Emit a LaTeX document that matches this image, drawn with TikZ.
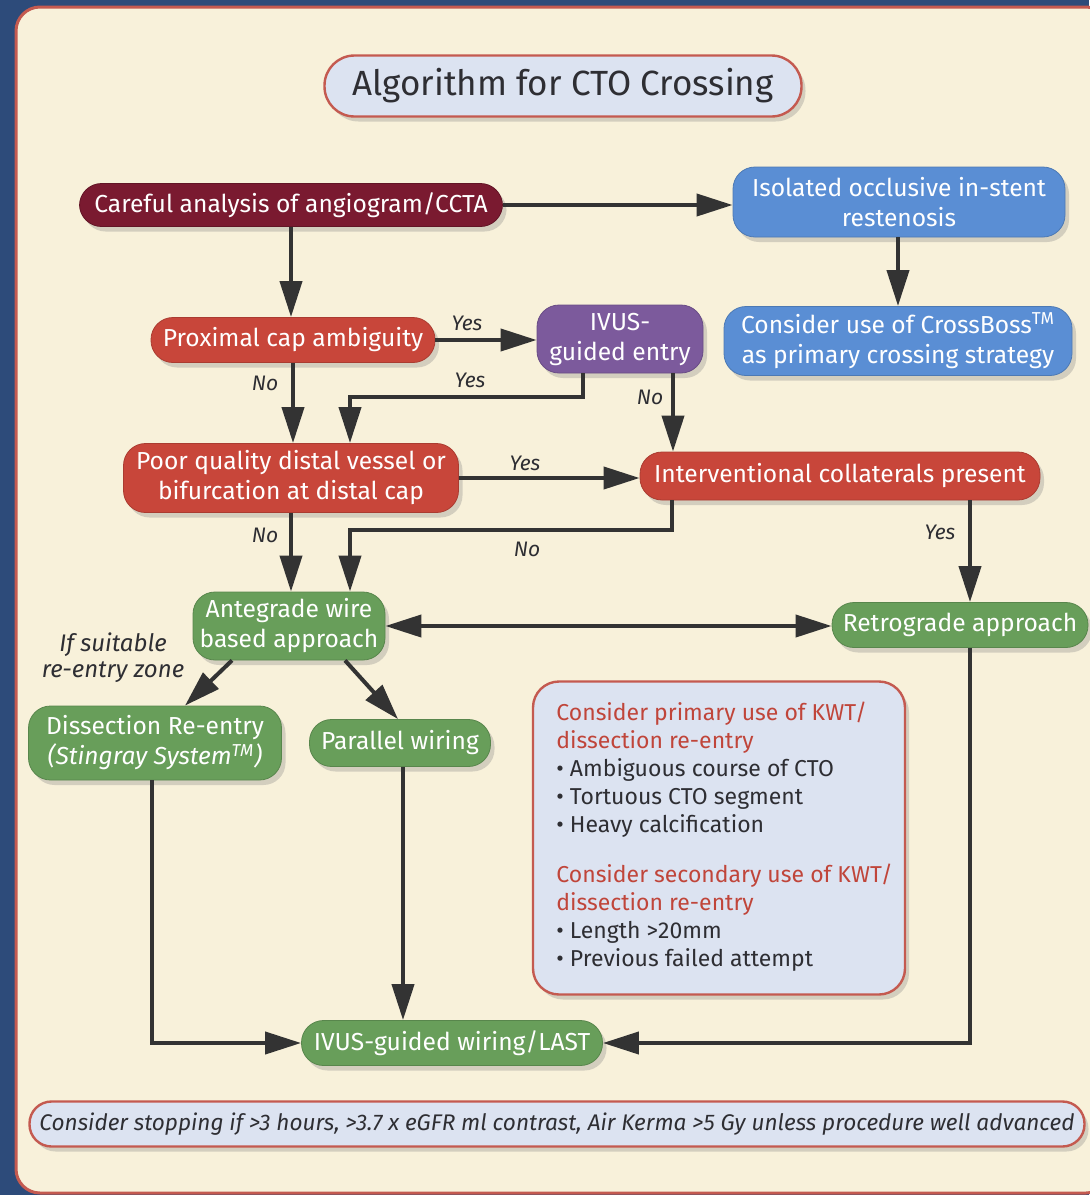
\documentclass[tikz,border=0pt]{standalone}
\usepackage{fontspec}
\setmainfont{Fira Sans}
\usetikzlibrary{arrows.meta,shadows,calc}
\definecolor{bgblue}{HTML}{2D4B7A}
\definecolor{cream}{HTML}{F8F1DA}
\definecolor{frame}{HTML}{C45A50}
\definecolor{maroon}{HTML}{7A1A30}
\definecolor{nred}{HTML}{C8463A}
\definecolor{nblue}{HTML}{5A8ED4}
\definecolor{npurple}{HTML}{7C5A9C}
\definecolor{ngreen}{HTML}{689E5A}
\definecolor{lblue}{HTML}{DCE3F1}
\definecolor{arrcol}{HTML}{333333}
\definecolor{headred}{HTML}{C0453A}
\definecolor{txtdark}{HTML}{2E2E33}
\tikzset{
  nodebase/.style={rounded corners=11pt, text=white, align=center, inner sep=0pt,
    font=\fontsize{12.3}{15}\selectfont,
    drop shadow={opacity=0.3, shadow xshift=2pt, shadow yshift=-2.5pt}},
  maroonbox/.style={nodebase, fill=maroon, draw=maroon!80!black},
  redbox/.style={nodebase, fill=nred, draw=nred!85!black},
  bluebox/.style={nodebase, fill=nblue, draw=nblue!85!black},
  purplebox/.style={nodebase, fill=npurple, draw=npurple!85!black},
  greenbox/.style={nodebase, fill=ngreen, draw=ngreen!85!black},
  notebox/.style={nodebase, fill=lblue, draw=frame, line width=1.2pt, text=txtdark},
  arr/.style={draw=arrcol, line width=2pt, -{Triangle[length=18pt,width=11pt]}},
  lbl/.style={font=\fontsize{10.5}{12}\selectfont\itshape, text=txtdark, inner sep=0pt}
}
\begin{document}
\begin{tikzpicture}[x=0.5pt,y=-0.5pt]
\useasboundingbox (0,0) rectangle (1089,1195);
% background
\fill[bgblue] (0,0) rectangle (1089,1195);
\filldraw[fill=cream, draw=frame, line width=1.5pt, rounded corners=12pt] (16,7) rectangle (1110,1193);

% title
\node[notebox, minimum width=238.5pt, minimum height=30.5pt, rounded corners=15pt,
  font=\fontsize{17.5}{20}\selectfont] (title) at (563,86) {Algorithm for CTO Crossing};

% nodes
\node[maroonbox, minimum width=211.5pt, minimum height=21.5pt] (careful) at (291,205) {Careful analysis of angiogram/CCTA};
\node[bluebox, minimum width=166pt, minimum height=35pt] (isolated) at (899,202) {Isolated occlusive in-stent\\restenosis};
\node[bluebox, minimum width=174pt, minimum height=34.5pt] (crossboss) at (898,341) {Consider use of CrossBoss\textsuperscript{TM}\\as primary crossing strategy};
\node[redbox, minimum width=142pt, minimum height=22.5pt] (proximal) at (293,340) {Proximal cap ambiguity};
\node[purplebox, minimum width=83pt, minimum height=34pt] (ivus) at (620,339) {IVUS-\\guided entry};
\node[redbox, minimum width=167.5pt, minimum height=34.5pt] (poor) at (291,478) {Poor quality distal vessel or\\bifurcation at distal cap};
\node[redbox, minimum width=200pt, minimum height=24pt] (interv) at (840,476) {Interventional collaterals present};
\node[greenbox, minimum width=96pt, minimum height=34pt] (ante) at (289,626) {Antegrade wire\\based approach};
\node[greenbox, minimum width=128pt, minimum height=22.5pt] (retro) at (960,625) {Retrograde approach};
\node[greenbox, minimum width=126.5pt, minimum height=37pt] (dissect) at (155,743) {Dissection Re-entry\\\textit{(Stingray System\textsuperscript{TM})}};
\node[greenbox, minimum width=90.5pt, minimum height=23.5pt] (parallel) at (400,743) {Parallel wiring};
\node[greenbox, minimum width=150.5pt, minimum height=22.5pt] (ivusw) at (452,1043) {IVUS-guided wiring/LAST};

% KWT box
\node[notebox, minimum width=186pt, minimum height=156.5pt, rounded corners=13pt] (kwt) at (719,838) {};
\node[anchor=north west, align=left, inner sep=0pt, text=txtdark,
  font=\fontsize{11.5}{14}\selectfont] (kwttext) at (556,702) {%
  \textcolor{headred}{Consider primary use of KWT/}\\
  \textcolor{headred}{dissection re-entry}\\
  • Ambiguous course of CTO\\
  • Tortuous CTO segment\\
  • Heavy calcification\\[11pt]
  \textcolor{headred}{Consider secondary use of KWT/}\\
  \textcolor{headred}{dissection re-entry}\\
  • Length >20mm\\
  • Previous failed attempt};

% bottom note
\node[notebox, minimum width=527.5pt, minimum height=22.5pt, rounded corners=11pt,
  font=\fontsize{11.3}{13}\selectfont\itshape] (note) at (557,1124)
  {Consider stopping if >3 hours, >3.7 x eGFR ml contrast, Air Kerma >5 Gy unless procedure well advanced};

% bend coordinates
\coordinate (b1) at (583,397);
\coordinate (b2) at (350,397);
\coordinate (b3) at (673,0);
\coordinate (b4) at (672,530);
\coordinate (b5) at (350,530);
\coordinate (b6) at (970,0);
\coordinate (b7) at (152,1043);
\coordinate (b8) at (403,0);
\coordinate (b9) at (970,1043);

% connectors
\draw[arr] (careful.east) -- (careful.east -| isolated.west);
\draw[arr] (careful.south) -- (careful.south |- proximal.north);
\draw[arr] (isolated.south -| crossboss) -- (crossboss.north);
\draw[arr] (proximal.east) -- (proximal.east -| ivus.west);
\draw[arr] (proximal.south) -- (proximal.south |- poor.north);
\draw[arr] (ivus.south -| b1) -- (b1) -- (b2) -- (b2 |- poor.north);
\draw[arr] (ivus.south -| b3) -- (b3 |- interv.north);
\draw[arr] (poor.east) -- (poor.east -| interv.west);
\draw[arr] (poor.south) -- (poor.south |- ante.north);
\draw[arr] (interv.south -| b4) -- (b4) -- (b5) -- (b5 |- ante.north);
\draw[arr] (interv.south -| b6) -- (b6 |- retro.north);
\draw[arr, {Triangle[length=18pt,width=11pt]}-{Triangle[length=18pt,width=11pt]}] (ante.east) -- (ante.east -| retro.west);
\draw[arr] ($(ante.south)+(-57,0)$) -- ($(dissect.north)+(30,0)$);
\draw[arr] ($(ante.south)+(56,0)$) -- ($(parallel.north)+(-2,0)$);
\draw[arr] (dissect.south -| b7) -- (b7) -- (ivusw.west);
\draw[arr] (parallel.south -| b8) -- (b8 |- ivusw.north);
\draw[arr] (retro.south -| b9) -- (b9) -- (ivusw.east);

% labels
\node[lbl] (l1) at (467,323) {Yes};
\node[lbl] (l2) at (265,383) {No};
\node[lbl] (l3) at (470,380) {Yes};
\node[lbl] (l4) at (650,397) {No};
\node[lbl] (l5) at (525,463) {Yes};
\node[lbl] (l6) at (265,535) {No};
\node[lbl] (l7) at (527,549) {No};
\node[lbl] (l8) at (940,532) {Yes};
\node[lbl, align=center, font=\fontsize{12}{13}\selectfont\itshape] (l9) at (113,658) {If suitable\\re-entry zone};
\end{tikzpicture}
\end{document}
